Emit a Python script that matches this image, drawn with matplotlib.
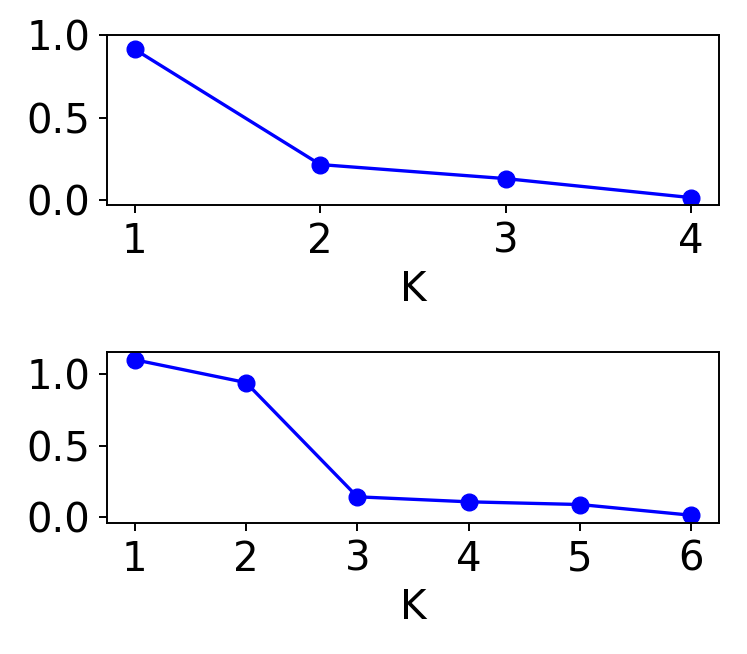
import matplotlib
matplotlib.use("Agg")
import matplotlib.pyplot as plt

# values
k_top = [1, 2, 3, 4]
val_top = [0.913, 0.216, 0.131, 0.016]

k_bottom = [1, 2, 3, 4, 5, 6]
val_bottom = [1.101, 0.941, 0.141, 0.106, 0.087, 0.012]

plt.rcParams['font.size'] = 29
plt.rcParams['axes.linewidth'] = 1.4
plt.rcParams['xtick.major.size'] = 6
plt.rcParams['ytick.major.size'] = 6
plt.rcParams['xtick.major.width'] = 1.4
plt.rcParams['ytick.major.width'] = 1.4
plt.rcParams['xtick.major.pad'] = 6
plt.rcParams['ytick.major.pad'] = 6
plt.rcParams['axes.labelpad'] = 6

fig = plt.figure(figsize=(7.47, 6.54), dpi=100)
ax1 = fig.add_axes([0.1432, 0.6865, 0.8193, 0.26])
ax2 = fig.add_axes([0.1432, 0.2003, 0.8193, 0.2615])

ax1.plot(k_top, val_top, 'bo-', linewidth=2.4, markersize=12)
ax1.set_ylim(top=1.0)
ax1.set_xticks(k_top)
ax1.set_yticks([0.0, 0.5, 1.0])
ax1.set_xlabel('K')

ax2.plot(k_bottom, val_bottom, 'bo-', linewidth=2.4, markersize=12)
ax2.set_xticks(k_bottom)
ax2.set_yticks([0.0, 0.5, 1.0])
ax2.set_xlabel('K')

fig.savefig('out.png', dpi=100)
